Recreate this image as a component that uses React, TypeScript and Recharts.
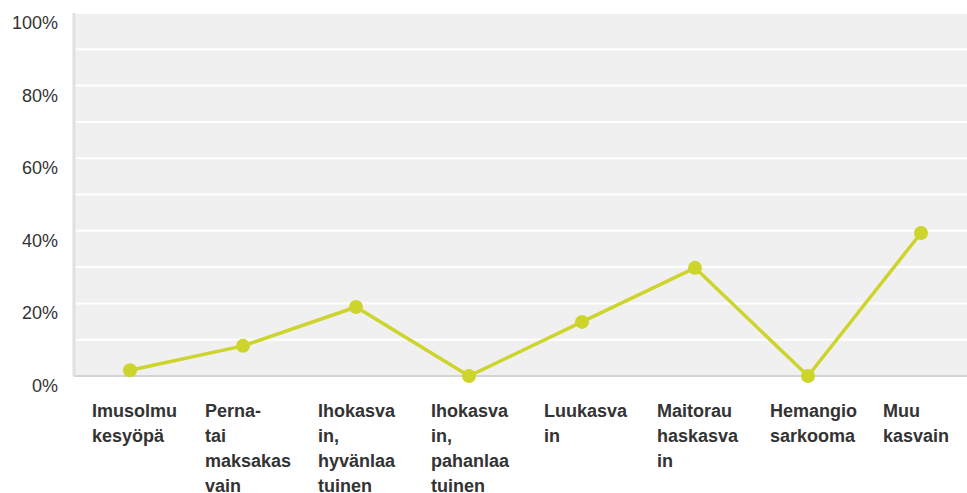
import React from "react";
import { CartesianGrid, Line, LineChart, XAxis, YAxis } from "recharts";

const categories = [
  "Imusolmukesyöpä",
  "Perna- tai maksakasvain",
  "Ihokasvain, hyvänlaatuinen",
  "Ihokasvain, pahanlaatuinen",
  "Luukasvain",
  "Maitorauhaskasvain",
  "Hemangiosarkooma",
  "Muu kasvain",
];

const shares = [1.6, 8.3, 19, 0, 14.9, 29.8, 0, 39.4];

const tickLines = [
  ["Imusolmu", "kesyöpä"],
  ["Perna-", "tai", "maksakas", "vain"],
  ["Ihokasva", "in,", "hyvänlaa", "tuinen"],
  ["Ihokasva", "in,", "pahanlaa", "tuinen"],
  ["Luukasva", "in"],
  ["Maitorau", "haskasva", "in"],
  ["Hemangio", "sarkooma"],
  ["Muu", "kasvain"],
];

const yTicks = [0, 10, 20, 30, 40, 50, 60, 70, 80, 90, 100];

const data = categories.map((name, i) => ({ name, value: shares[i], idx: i }));

const font = "'Liberation Sans', Arial, sans-serif";

const XTick = (props: any) => {
  const { x, y, index } = props;
  const lines = tickLines[index] || [];
  return (
    <text
      x={x - 38}
      y={y + 41}
      textAnchor="start"
      fontFamily={font}
      fontSize={18}
      fontWeight="bold"
      fill="#333"
    >
      {lines.map((l, i) => (
        <tspan key={i} x={x - 38} dy={i === 0 ? 0 : 25}>
          {l}
        </tspan>
      ))}
    </text>
  );
};

const YTick = (props: any) => {
  const { x, y, payload } = props;
  if (payload.value % 20 !== 0) return null;
  return (
    <text
      x={x - 16}
      y={y + 16}
      textAnchor="end"
      fontFamily={font}
      fontSize={18}
      fill="#333"
    >
      {payload.value}%
    </text>
  );
};

export default function App() {
  return (
    <div style={{ position: "absolute", left: 0, top: 0 }}>
      <LineChart
        width={967}
        height={493}
        data={data}
        margin={{ top: 13, right: 0, bottom: 0, left: 0 }}
      >
        <CartesianGrid
          vertical={false}
          fill="#f0f0f0"
          stroke="#ffffff"
          strokeWidth={2}
          strokeOpacity={1}
        />
        <XAxis
          dataKey="name"
          height={117}
          tickLine={false}
          tickSize={0}
          tickMargin={0}
          interval={0}
          padding={{ left: 56, right: 46 }}
          axisLine={{ stroke: "#d4d4d4", strokeWidth: 2 }}
          tick={<XTick />}
        />
        <YAxis
          width={74}
          domain={[0, 100]}
          ticks={yTicks}
          tickLine={false}
          tickSize={0}
          tickMargin={0}
          interval={0}
          axisLine={{ stroke: "#e0e0e0", strokeWidth: 3 }}
          tick={<YTick />}
        />
        <Line
          type="linear"
          dataKey="value"
          stroke="#cdd42b"
          strokeWidth={3.5}
          dot={{ r: 7, fill: "#cdd42b", stroke: "#cdd42b", strokeWidth: 0 }}
          activeDot={false}
          isAnimationActive={false}
        />
      </LineChart>
    </div>
  );
}
